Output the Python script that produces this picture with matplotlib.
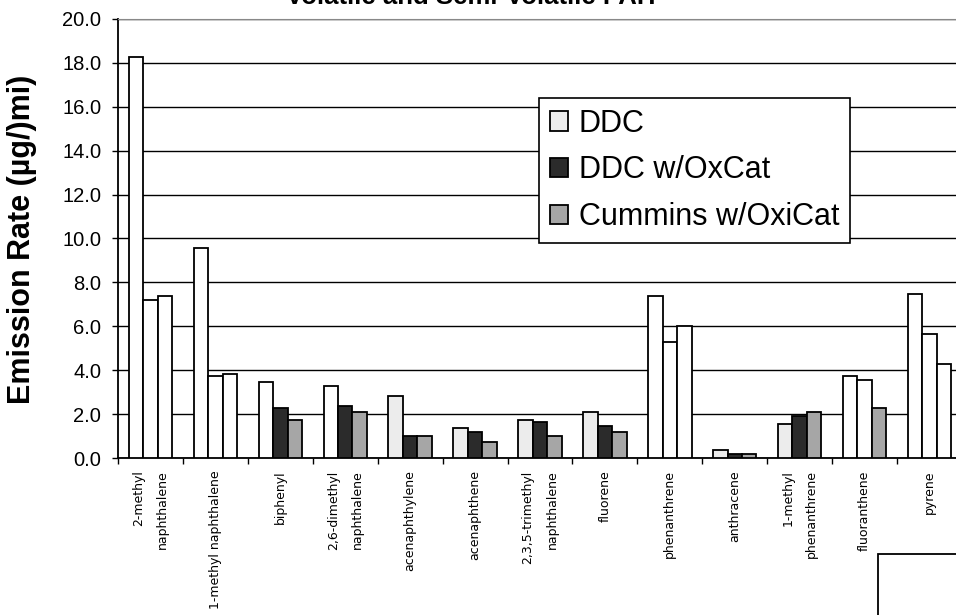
import numpy as np
import matplotlib
matplotlib.use("Agg")
import matplotlib.pyplot as plt
from matplotlib.patches import Patch, Rectangle

plt.rcParams["font.family"] = ["Liberation Sans", "DejaVu Sans"]

compounds = [
    "2-methyl\nnaphthalene", "1-methyl naphthalene", "biphenyl",
    "2,6-dimethyl\nnaphthalene", "acenaphthylene", "acenaphthene",
    "2,3,5-trimethyl\nnaphthalene", "fluorene", "phenanthrene",
    "anthracene", "1-methyl\nphenanthrene", "fluoranthene", "pyrene",
]
series_names = ["DDC", "DDC w/OxCat", "Cummins w/OxiCat"]
ddc = [18.25, 9.55, 3.46, 3.28, 2.82, 1.38, 1.75, 2.10, 7.39, 0.36, 1.55, 3.73, 7.47]
ddc_oxcat = [7.20, 3.73, 2.28, 2.37, 1.02, 1.20, 1.66, 1.47, 5.28, 0.20, 1.93, 3.55, 5.66]
cummins_oxicat = [7.39, 3.82, 1.73, 2.10, 1.02, 0.73, 1.02, 1.20, 6.01, 0.20, 2.10, 2.29, 4.30]

# fills as in the original sheet: some bars were left white
base_colors = ["#ececec", "#2b2b2b", "#a6a6a6"]
white_groups = [
    [0, 1, 2, 3, 8, 11, 12],
    [0, 1, 8, 11, 12],
    [0, 1, 8, 12],
]

fig = plt.figure(figsize=(9.56, 6.15), dpi=100)
ax = fig.add_axes([118 / 956, 1 - 458 / 615, 844 / 956, 439 / 615])

x = np.arange(len(compounds))
w = 0.223
for k, vals in enumerate([ddc, ddc_oxcat, cummins_oxicat]):
    colors = ["white" if i in white_groups[k] else base_colors[k] for i in range(len(vals))]
    ax.bar(x + (k - 1) * w, vals, width=w, color=colors, edgecolor="black",
           linewidth=1.3, zorder=3)

ax.set_xlim(-0.5, len(compounds) - 0.5)
ax.set_ylim(0, 20)
ax.set_yticks(np.arange(0, 20.1, 2.0))
ax.set_yticklabels([f"{v:.1f}" for v in np.arange(0, 20.1, 2.0)], fontsize=14.5)
ax.yaxis.grid(True, color="black", linewidth=1.0, zorder=0)
ax.tick_params(axis="y", length=4, width=1, pad=8)

ax.set_xticks(x)
ax.set_xticklabels(compounds, rotation=90, fontsize=9, family="DejaVu Sans",
                   multialignment="right", linespacing=2.1)
ax.set_xticks(np.arange(-0.5, len(compounds), 1.0), minor=True)
ax.tick_params(axis="x", which="major", length=0, pad=9)
ax.tick_params(axis="x", which="minor", length=4, width=1)

ax.spines["top"].set_color("#888888")
ax.spines["right"].set_visible(False)
ax.spines["left"].set_linewidth(1.3)
ax.spines["bottom"].set_linewidth(1.3)

fig.text(22 / 956, 1 - 239 / 615, "Emission Rate (\u00b5g/)mi)", rotation=90,
         ha="center", va="center", fontsize=22, fontweight="bold")
fig.text(471 / 956, 1 - 3.5 / 615, "Volatile and Semi-Volatile PAH",
         ha="center", va="baseline", fontsize=18.5, fontweight="bold")

handles = [Patch(facecolor=c, edgecolor="black", linewidth=1.3) for c in base_colors]
leg = ax.legend(handles, series_names, loc="upper left",
                bbox_to_anchor=(539 / 956, 1 - 98 / 615), bbox_transform=fig.transFigure,
                fontsize=22, fancybox=False, framealpha=1, edgecolor="black",
                handlelength=0.6, handleheight=0.6, handletextpad=0.35,
                labelspacing=0.55, borderpad=0.35, borderaxespad=0)
leg.get_frame().set_linewidth(1.2)
leg.set_zorder(5)

fig.add_artist(Rectangle((878 / 956, -0.05), 0.2, 0.05 + 61 / 615,
                         transform=fig.transFigure, facecolor="white",
                         edgecolor="black", linewidth=1.3))

fig.savefig("out.png", dpi=100)
